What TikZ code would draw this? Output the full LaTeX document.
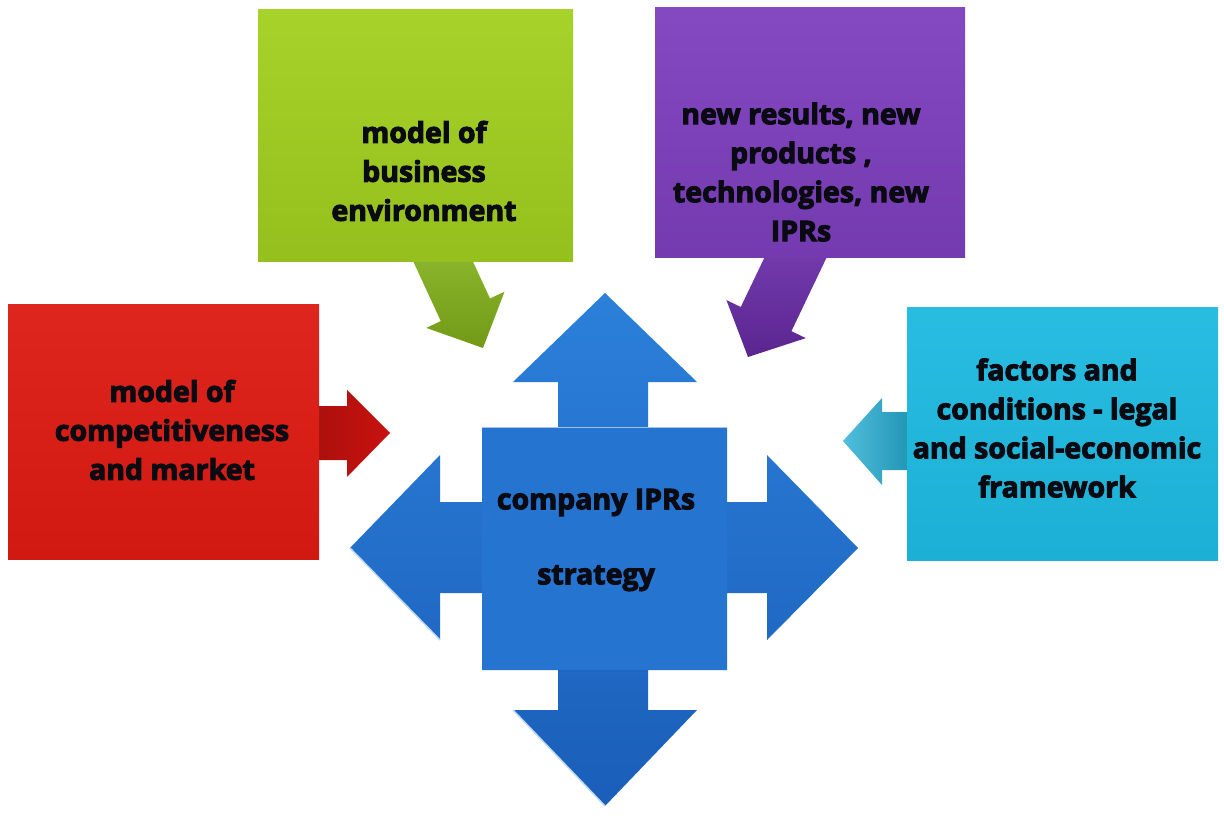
\documentclass[tikz,border=0pt]{standalone}
\usepackage{fontspec}
\setmainfont{Open Sans}[BoldFeatures={FakeBold=3.5}]
\usetikzlibrary{calc}
\definecolor{redbox}{HTML}{DC1A12}
\definecolor{redarrow}{HTML}{C8120F}
\definecolor{greenbox}{HTML}{A2D01F}
\definecolor{greenarrow}{HTML}{86B51B}
\definecolor{purplebox}{HTML}{7E3FBE}
\definecolor{purplearrow}{HTML}{6A2BAA}
\definecolor{cyanbox}{HTML}{1EB9E0}
\definecolor{cyanarrow}{HTML}{25AED3}
\definecolor{bluetop}{HTML}{2C80DA}
\definecolor{bluebot}{HTML}{1A5EB9}
\definecolor{bluesq}{HTML}{2474D0}
\definecolor{inktext}{HTML}{0A0A12}
\tikzset{
  x=1pt, y=-1pt,
  boxtext/.style={align=center, text=inktext, font=\fontsize{28.5}{39}\selectfont\bfseries, inner sep=0pt},
  sidebox/.style={draw=none},
  smallarrow/.style={draw=none},
}
\begin{document}
\begin{tikzpicture}
\useasboundingbox (0,0) rectangle (1224,818);
\fill[white] (0,0) rectangle (1224,818);

% ---- small arrows (drawn first, tails hidden under boxes)
% red, pointing right
\shade[smallarrow, left color=redarrow!85!black, right color=redarrow]
  (312,406) -- (347,406) -- (347,390) -- (390,433) -- (347,477) -- (347,460) -- (312,460) -- cycle;
% cyan, pointing left
\shade[smallarrow, left color=cyanarrow!80!white, right color=cyanarrow!85!black]
  (912,412) -- (882,412) -- (882,398) -- (843,441) -- (882,485) -- (882,470) -- (912,470) -- cycle;
% green, pointing down-right
\shade[smallarrow, top color=greenarrow!90!white, bottom color=greenarrow!85!black]
  (458.5,230.3) -- (490.0,298.5) -- (504.5,291.7) -- (483,348) -- (426.3,327.9) -- (440.8,321.1) -- (409.3,252.9) -- cycle;
% purple, pointing down-left
\shade[smallarrow, top color=purplearrow!90!white, bottom color=purplearrow!85!black]
  (830.2,250.0) -- (791.4,331.2) -- (805.8,338.1) -- (748,357) -- (726.4,300.1) -- (740.8,307.0) -- (779.6,225.8) -- cycle;

% ---- coloured boxes
\shade[sidebox, top color=redbox!95!white, bottom color=redbox!95!black] (8,305) rectangle (319,559);
\shade[sidebox, top color=greenbox!95!white, bottom color=greenbox!92!black] (258,10) rectangle (573,262);
\shade[sidebox, top color=purplebox!95!white, bottom color=purplebox!92!black] (655,8) rectangle (965,258);
\shade[sidebox, top color=cyanbox!95!white, bottom color=cyanbox!95!black] (907,308) rectangle (1218,560);

% ---- central four-way arrow
\shade[top color=bluetop, bottom color=bluebot]
  (605,293) -- (697,382) -- (648,382) -- (648,427) -- (727,427) -- (727,502) -- (767,502)
  -- (767,455) -- (858,548) -- (767,640) -- (767,593) -- (727,593) -- (727,670)
  -- (648,670) -- (648,710) -- (697,710) -- (605,806) -- (513,710) -- (558,710) -- (558,670)
  -- (482,670) -- (482,593) -- (440,593) -- (440,640) -- (350,548) -- (440,455) -- (440,502)
  -- (482,502) -- (482,427) -- (558,427) -- (558,382) -- (513,382) -- cycle;
% bevel highlights on lower-left edges of heads
\draw[white!70!bluetop, line width=1.5pt] (350,548) -- (440,640);
\draw[white!70!bluetop, line width=1.5pt] (513,710) -- (605,806);
% centre square
\fill[bluesq] (482,427) rectangle (727,670);
\draw[white!55!bluetop, line width=1pt] (482,427) -- (727,427);

% ---- texts
\node[boxtext] (red)    at (172,430) {model of\\competitiveness\\and market};
\node[boxtext] (green)  at (424,171) {model of\\business\\environment};
\node[boxtext] (purple) at (801,172) {new results, new\\products ,\\technologies, new\\IPRs};
\node[boxtext] (cyan)   at (1057,428) {factors and\\conditions - legal\\and social-economic\\framework};
\node[boxtext, font=\fontsize{28.5}{75}\selectfont\bfseries] (centre) at (596,540) {company IPRs\\strategy};
\end{tikzpicture}
\end{document}
